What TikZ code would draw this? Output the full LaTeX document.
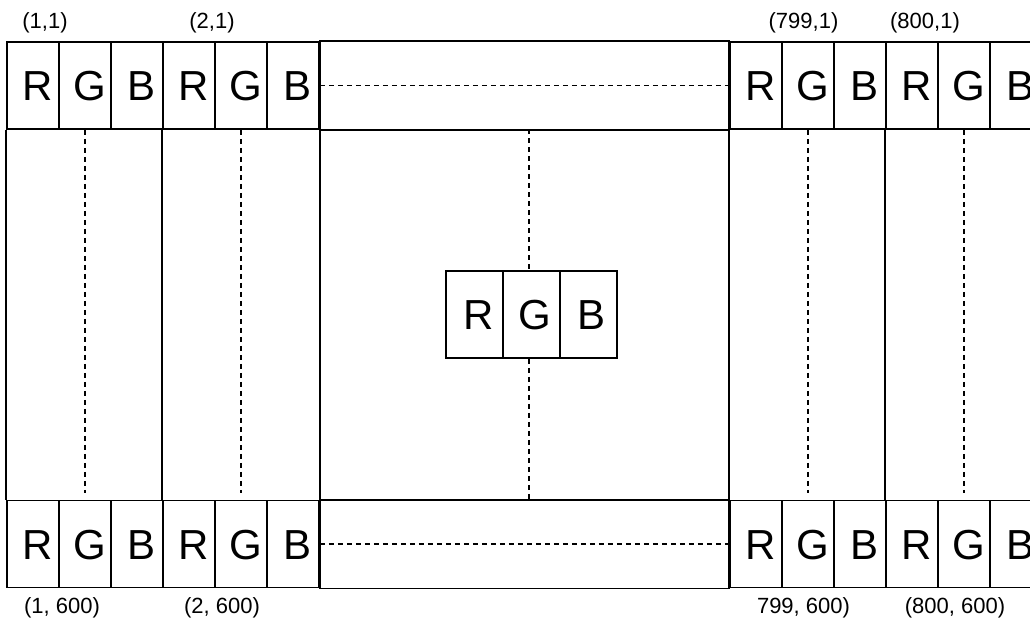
\documentclass[tikz,border=0pt]{standalone}
\usepackage{fontspec}
\setmainfont{Liberation Sans}
\begin{document}
\begin{tikzpicture}[x=1pt,y=-1pt,
  cell/.style={draw, line width=1.8pt, minimum width=52pt, minimum height=87pt, inner sep=0pt,
    font=\fontsize{42}{42}\selectfont, text height=30pt, text depth=0pt},
  ccell/.style={cell, minimum width=57pt},
  lbl/.style={font=\fontsize{22}{22}\selectfont, inner sep=0pt},
  dsh/.style={dash pattern=on 5pt off 4pt, line width=1.3pt},
  frame/.style={line width=1.8pt}]
\useasboundingbox (0,0) rectangle (1030,627);
\clip (0,0) rectangle (1030,627);
% pixel cells, top and bottom rows
\foreach \n/\x in {1/33, 2/189, 799/756, 800/912} {
  \node[cell] (t\n R) at (\x,85.5) {\hspace{9pt}R};
  \node[cell] (t\n G) at (\x+52,85.5) {\hspace{9pt}G};
  \node[cell] (t\n B) at (\x+104,85.5) {\hspace{9pt}B};
  \node[cell] (b\n R) at (\x,544) {\hspace{9pt}R};
  \node[cell] (b\n G) at (\x+52,544) {\hspace{9pt}G};
  \node[cell] (b\n B) at (\x+104,544) {\hspace{9pt}B};
}
% gaps between pixel groups
\draw[frame] (t2B.north east) rectangle (t799R.south west);
\draw[frame] (b2B.north east) rectangle (b799R.south west);
\draw[dsh] (t2B.east) -- (t799R.west);
\draw[dsh] (b2B.east) -- (b799R.west);
% column borders
\draw[frame] (t1R.south west) -- (b1R.north west);
\draw[frame] (t2R.south west) -- (b2R.north west);
\draw[frame] (t2B.south east) -- (b2B.north east);
\draw[frame] (t799R.south west) -- (b799R.north west);
\draw[frame] (t800R.south west) -- (b800R.north west);
% column dashed lines
\foreach \n in {1,2,799,800} {
  \draw[dsh, shorten >=7pt] (t\n G.south) -- (b\n G.north);
}
% centre pixel
\node[ccell] (cR) at (474.5,314.5) {\hspace{8pt}R};
\node[ccell] (cG) at (531.5,314.5) {\hspace{6pt}G};
\node[ccell] (cB) at (588.5,314.5) {\hspace{6pt}B};
\coordinate (ctop) at (529,129);
\coordinate (cbot) at (529,501);
\draw[dsh] (ctop) -- (ctop |- cG.north);
\draw[dsh] (cbot |- cG.south) -- (cbot);
% labels
\node[lbl] (l11) at (45,23) {(1,1)};
\node[lbl] (l21) at (212,23) {(2,1)};
\node[lbl] (l7991) at (803.5,23) {(799,1)};
\node[lbl] (l8001) at (925,23) {(800,1)};
\node[lbl] (l1600) at (62,608) {(1, 600)};
\node[lbl] (l2600) at (222,608) {(2, 600)};
\node[lbl] (l799600) at (803.5,608) {799, 600)};
\node[lbl] (l800600) at (955,608) {(800, 600)};
\end{tikzpicture}
\end{document}
